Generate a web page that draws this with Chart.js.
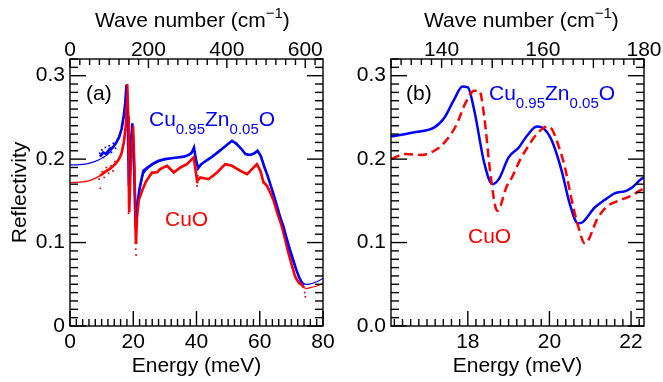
<!DOCTYPE html>
<html lang="en">
<head>
<meta charset="UTF-8">
<title>Reflectivity CuO / Cu0.95Zn0.05O</title>
<script src="https://cdn.jsdelivr.net/npm/chart.js"></script>
<style>
  body { margin: 0; background: #fff; }
  .wrap { position: relative; width: 663px; height: 382px; }
  #panelA { position: absolute; left: 0; top: 0; }
  #panelB { position: absolute; left: 340px; top: 0; }
</style>
</head>
<body>
<div class="wrap">
  <canvas id="panelA" width="340" height="382"></canvas>
  <canvas id="panelB" width="323" height="382"></canvas>
</div>
<script>
const MEV_TO_CM = 8.0655;
const BLUE = '#0000ff';
const RED = '#ff0000';

// ---- panel (a) : full range, energy in meV ----
const znFitE = [0, 3, 6, 9, 12, 14.3, 16, 17, 17.85, 18.2, 18.65, 19.05, 19.7, 20.3, 20.75, 21.2, 22, 23.2, 25, 28, 32, 36, 38.3, 39.2, 40.5, 42, 45, 48, 51.2, 53.5, 56, 58, 59.2, 60.5, 62.3, 64, 66.5, 69, 71.5, 73, 74.5, 76, 78, 80];
const znFitR = [0.193, 0.1935, 0.195, 0.199, 0.206, 0.218, 0.232, 0.25, 0.287, 0.255, 0.17, 0.204, 0.24, 0.186, 0.123, 0.142, 0.162, 0.182, 0.19, 0.197, 0.201, 0.203, 0.206, 0.212, 0.19, 0.195, 0.203, 0.212, 0.221, 0.215, 0.205, 0.206, 0.209, 0.203, 0.182, 0.163, 0.128, 0.095, 0.067, 0.054, 0.05, 0.0505, 0.053, 0.057];

const znDataE = [9.5, 10.5, 11.5, 12.5, 13.5, 14.5, 15.5, 16.3, 17, 17.5, 17.85, 18.2, 18.65, 19.05, 19.7, 20.3, 20.75, 21.2, 22, 23.2, 24.5, 26, 28, 30, 32, 34, 36, 37.5, 38.5, 39.2, 39.8, 40.5, 41.5, 43, 45, 47, 49, 51.2, 52.5, 54, 55.5, 57, 58.3, 59.3, 60.3, 61.5, 62.5, 63.5, 64.5, 65.5, 66.5, 67.5, 68.5, 69.5, 70.5, 71.5, 72.5, 73.3, 74];
const znDataR = [0.203, 0.208, 0.206, 0.212, 0.214, 0.219, 0.226, 0.236, 0.252, 0.268, 0.289, 0.255, 0.168, 0.205, 0.243, 0.186, 0.122, 0.143, 0.165, 0.186, 0.19, 0.194, 0.198, 0.2, 0.201, 0.202, 0.203, 0.205, 0.208, 0.214, 0.2, 0.189, 0.194, 0.198, 0.203, 0.209, 0.215, 0.222, 0.219, 0.213, 0.206, 0.205, 0.207, 0.21, 0.204, 0.19, 0.18, 0.168, 0.156, 0.143, 0.13, 0.119, 0.105, 0.092, 0.08, 0.068, 0.058, 0.052, 0.049];

const cuoFitE = [0, 3, 6, 9, 12, 14.3, 16, 17, 17.7, 18.1, 18.4, 18.56, 18.72, 19.08, 19.41, 19.94, 20.38, 20.71, 20.87, 21.19, 21.75, 22.8, 24, 25.9, 28, 30.7, 32.8, 34.9, 37, 39.1, 40.2, 41.2, 43.8, 46.5, 49.1, 51.2, 53.9, 56, 59.1, 60.2, 61.2, 62.3, 64.4, 67, 69.1, 71.2, 73, 74.5, 76, 78, 80];
const cuoFitR = [0.172, 0.1725, 0.174, 0.179, 0.186, 0.194, 0.204, 0.218, 0.24, 0.288, 0.252, 0.18, 0.138, 0.178, 0.21, 0.239, 0.19, 0.1185, 0.099, 0.13, 0.151, 0.163, 0.172, 0.182, 0.186, 0.192, 0.185, 0.19, 0.194, 0.201, 0.176, 0.178, 0.176, 0.184, 0.194, 0.192, 0.186, 0.182, 0.194, 0.186, 0.174, 0.168, 0.15, 0.119, 0.087, 0.06, 0.05, 0.045, 0.046, 0.048, 0.051];

const cuoDataE = [9.5, 10.5, 11.5, 12.5, 13.5, 14.5, 15.5, 16.3, 17, 17.7, 18.1, 18.4, 18.56, 18.72, 19.08, 19.41, 19.94, 20.38, 20.71, 20.87, 21.19, 21.75, 22.8, 24, 25.9, 27.5, 28.5, 30.7, 32.8, 34.9, 37, 39.1, 40.2, 41.2, 43.8, 46.5, 49.1, 51.2, 53.9, 56, 59.1, 60.2, 61.2, 62.3, 63.3, 64.4, 65.5, 67, 68, 69.1, 70.2, 71.2, 72.3, 73.4, 74];
const cuoDataR = [0.18, 0.183, 0.186, 0.188, 0.191, 0.195, 0.2, 0.207, 0.22, 0.242, 0.29, 0.252, 0.18, 0.136, 0.178, 0.21, 0.24, 0.19, 0.118, 0.098, 0.13, 0.151, 0.162, 0.173, 0.184, 0.184, 0.188, 0.192, 0.184, 0.19, 0.194, 0.202, 0.174, 0.178, 0.176, 0.184, 0.194, 0.192, 0.186, 0.182, 0.194, 0.186, 0.172, 0.168, 0.16, 0.15, 0.136, 0.119, 0.104, 0.087, 0.072, 0.059, 0.052, 0.049, 0.046];

// stray measured points
const znDotsE = [9.4, 10.1, 10.6, 11.2, 11.8, 12.4, 13.1, 13.7, 14.4, 15.1, 20.6, 20.7, 40.4];
const znDotsR = [0.207, 0.211, 0.202, 0.214, 0.209, 0.216, 0.208, 0.219, 0.213, 0.224, 0.12, 0.128, 0.18];
const cuoDotsE = [9.2, 9.6, 10.2, 10.8, 11.5, 12.2, 13, 13.6, 14.2, 18.5, 18.5, 18.6, 20.7, 20.8, 20.9, 40.2, 40.4, 74.2, 74.4];
const cuoDotsR = [0.176, 0.165, 0.185, 0.178, 0.19, 0.183, 0.192, 0.186, 0.197, 0.148, 0.135, 0.155, 0.1, 0.092, 0.085, 0.168, 0.172, 0.04, 0.035];

// ---- panel (b) : zoom on the 18-21 meV phonons ----
const znZoomE = [16.12, 16.66, 17.18, 17.43, 17.65, 17.87, 18.0, 18.16, 18.4, 18.6, 18.76, 19.0, 19.25, 19.45, 19.69, 19.85, 20.06, 20.3, 20.5, 20.7, 20.8, 21.11, 21.35, 21.6, 21.88, 22.05, 22.24, 22.32];
const znZoomR = [0.227, 0.232, 0.238, 0.25, 0.27, 0.287, 0.286, 0.258, 0.196, 0.17, 0.176, 0.202, 0.214, 0.228, 0.239, 0.237, 0.222, 0.186, 0.146, 0.123, 0.124, 0.142, 0.151, 0.159, 0.162, 0.167, 0.176, 0.178];
const cuoZoomE = [16.12, 16.46, 16.86, 17.18, 17.43, 17.71, 17.95, 18.16, 18.28, 18.4, 18.56, 18.72, 18.96, 19.08, 19.29, 19.41, 19.69, 19.94, 20.06, 20.18, 20.38, 20.55, 20.71, 20.87, 21.19, 21.43, 21.75, 22.0, 22.24, 22.32];
const cuoZoomR = [0.2, 0.206, 0.205, 0.21, 0.22, 0.24, 0.268, 0.282, 0.282, 0.252, 0.18, 0.138, 0.168, 0.178, 0.2, 0.21, 0.23, 0.239, 0.236, 0.222, 0.19, 0.15, 0.1185, 0.0987, 0.13, 0.144, 0.151, 0.156, 0.163, 0.165];

// axis labels
const energyTicksA = [0, 20, 40, 60, 80];
const waveTicksA = [0, 200, 400, 600];
const reflTicks = [0, 0.1, 0.2, 0.3];
const reflLabelsA = ['0', '0.1', '0.2', '0.3'];
const energyTicksB = [18, 20, 22];
const waveTicksB = [140, 160, 180];
const reflLabelsB = ['0.0', '0.1', '0.2', '0.3'];

const FONT = "'Liberation Sans', Arial, Helvetica, sans-serif";
Chart.defaults.font.family = FONT;
Chart.defaults.color = '#000';

function pts(xs, ys) { return xs.map((x, i) => ({ x: x, y: ys[i] })); }

function range(a, b, step) {
  const out = [];
  const n0 = Math.ceil(a / step - 1e-6), n1 = Math.floor(b / step + 1e-6);
  for (let n = n0; n <= n1; n++) out.push(+(n * step).toFixed(6));
  return out;
}

// draws text made of pieces, some as sub/superscripts
function richText(ctx, x, y, parts, size, color) {
  ctx.fillStyle = color;
  ctx.textBaseline = 'alphabetic';
  ctx.textAlign = 'left';
  parts.forEach(p => {
    const s = p.sub || p.sup ? Math.round(size * 0.72) : size;
    ctx.font = s + 'px ' + FONT;
    const dy = p.sub ? size * 0.38 : (p.sup ? -size * 0.45 : 0);
    ctx.fillText(p.t, x, y + dy);
    x += ctx.measureText(p.t).width;
  });
}

// frame, inward ticks on all four sides, and the text labels
const framePlugin = {
  id: 'frame',
  afterDraw(chart, args, o) {
    const { ctx, chartArea: a, scales } = chart;
    ctx.save();
    ctx.strokeStyle = '#000';
    ctx.lineWidth = 1.4;
    ctx.lineCap = 'butt';
    const line = (x1, y1, x2, y2) => { ctx.beginPath(); ctx.moveTo(x1, y1); ctx.lineTo(x2, y2); ctx.stroke(); };
    const isMajor = (v, m) => Math.abs(v / m - Math.round(v / m)) < 1e-4;

    const bx = scales.x;
    range(bx.min, bx.max, o.bottom[0]).forEach(v => {
      const p = bx.getPixelForValue(v);
      line(p, a.bottom, p, a.bottom - (isMajor(v, o.bottom[1]) ? 15 : 7));
    });
    const tx = scales.x2;
    range(tx.min, tx.max, o.top[0]).forEach(v => {
      const p = tx.getPixelForValue(v);
      line(p, a.top, p, a.top + (isMajor(v, o.top[1]) ? 9 : 6));
    });
    const ly = scales.y;
    range(ly.min, ly.max, o.left[0]).forEach(v => {
      const p = ly.getPixelForValue(v);
      const l = isMajor(v, o.left[1]) ? 16 : 8;
      line(a.left, p, a.left + l, p);
      line(a.right, p, a.right - l, p);
    });
    ctx.strokeRect(a.left, a.top, a.right - a.left, a.bottom - a.top);

    o.texts.forEach(t => richText(ctx, a.left + t.dx, a.top + t.dy, t.parts, t.size, t.color));
    ctx.restore();
  }
};

function axisX(min, max, ticks, pos, h, padding, labels) {
  return {
    type: 'linear', position: pos, min: min, max: max,
    afterBuildTicks: s => { s.ticks = ticks.map(v => ({ value: v })); },
    afterFit: s => { s.height = h; },
    ticks: { font: { size: 21 }, padding: padding, maxRotation: 0, autoSkip: false,
             callback: (v, i) => labels ? labels[i] : String(v) },
    grid: { display: false, drawTicks: false },
    border: { display: false }
  };
}

function makeChart(id, cfg) {
  const x = axisX(cfg.xMin, cfg.xMax, cfg.eTicks, 'bottom', 56, 4);
  x.title = { display: true, text: 'Energy (meV)', font: { size: 21 }, padding: { top: 0, bottom: 3 } };
  const x2 = axisX(cfg.xMin * MEV_TO_CM, cfg.xMax * MEV_TO_CM, cfg.wTicks, 'top', 59, -4);
  const y = {
    type: 'linear', position: 'left', min: 0, max: 0.32,
    afterBuildTicks: s => { s.ticks = reflTicks.map(v => ({ value: v })); },
    afterFit: s => { s.width = cfg.yWidth; },
    ticks: { font: { size: 21 }, padding: 5, callback: (v, i) => cfg.yLabels[i] },
    grid: { display: false, drawTicks: false },
    border: { display: false },
    title: { display: cfg.yTitle, text: 'Reflectivity', font: { size: 21 }, padding: { top: 8, bottom: 0 } }
  };
  return new Chart(document.getElementById(id), {
    type: 'line',
    data: { datasets: cfg.datasets },
    options: {
      responsive: false, animation: false, devicePixelRatio: 1,
      layout: { padding: { left: 0, right: cfg.padRight, top: 0, bottom: 0 } },
      plugins: { legend: { display: false }, tooltip: { enabled: false }, frame: cfg.frame },
      elements: { point: { radius: 0 } },
      scales: { x: x, x2: x2, y: y }
    },
    plugins: [framePlugin]
  });
}

const topTitle = [{ t: 'Wave number (cm' }, { t: '\u22121', sup: true }, { t: ')' }];
const znLabel = [{ t: 'Cu' }, { t: '0.95', sub: true }, { t: 'Zn' }, { t: '0.05', sub: true }, { t: 'O' }];

makeChart('panelA', {
  xMin: 0, xMax: 80, eTicks: energyTicksA, wTicks: waveTicksA,
  yWidth: 70, yLabels: reflLabelsA, yTitle: true, padRight: 17,
  datasets: [
    { data: pts(cuoFitE, cuoFitR), borderColor: RED, borderWidth: 1.2, tension: 0.2 },
    { data: pts(znFitE, znFitR), borderColor: BLUE, borderWidth: 1.2, tension: 0.2 },
    { data: pts(cuoDataE, cuoDataR), borderColor: RED, borderWidth: 2.6, tension: 0 },
    { data: pts(znDataE, znDataR), borderColor: BLUE, borderWidth: 2.6, tension: 0 },
    { data: pts(cuoDotsE, cuoDotsR), showLine: false, pointRadius: 1.2, pointStyle: 'rect', backgroundColor: RED, borderColor: RED, borderWidth: 0 },
    { data: pts(znDotsE, znDotsR), showLine: false, pointRadius: 1.2, pointStyle: 'rect', backgroundColor: BLUE, borderColor: BLUE, borderWidth: 0 }
  ],
  frame: {
    bottom: [2, 20], top: [25, 200], left: [0.01, 0.1],
    texts: [
      { dx: 25, dy: -32, parts: topTitle, size: 21, color: '#000' },
      { dx: 16, dy: 41, parts: [{ t: '(a)' }], size: 21, color: '#000' },
      { dx: 79, dy: 67, parts: znLabel, size: 21, color: BLUE },
      { dx: 95, dy: 167, parts: [{ t: 'CuO' }], size: 21, color: RED }
    ]
  }
});

makeChart('panelB', {
  xMin: 130 / MEV_TO_CM, xMax: 180 / MEV_TO_CM, eTicks: energyTicksB, wTicks: waveTicksB,
  yWidth: 51, yLabels: reflLabelsB, yTitle: false, padRight: 19,
  datasets: [
    { data: pts(cuoZoomE, cuoZoomR), borderColor: RED, borderWidth: 2.5, borderDash: [9, 5], cubicInterpolationMode: 'monotone' },
    { data: pts(znZoomE, znZoomR), borderColor: BLUE, borderWidth: 2.5, cubicInterpolationMode: 'monotone' }
  ],
  frame: {
    bottom: [0.2, 2], top: [2, 10], left: [0.01, 0.1],
    texts: [
      { dx: 33, dy: -32, parts: topTitle, size: 21, color: '#000' },
      { dx: 15, dy: 41, parts: [{ t: '(b)' }], size: 21, color: '#000' },
      { dx: 98, dy: 41, parts: znLabel, size: 21, color: BLUE },
      { dx: 77, dy: 184, parts: [{ t: 'CuO' }], size: 21, color: RED }
    ]
  }
});
</script>
</body>
</html>
